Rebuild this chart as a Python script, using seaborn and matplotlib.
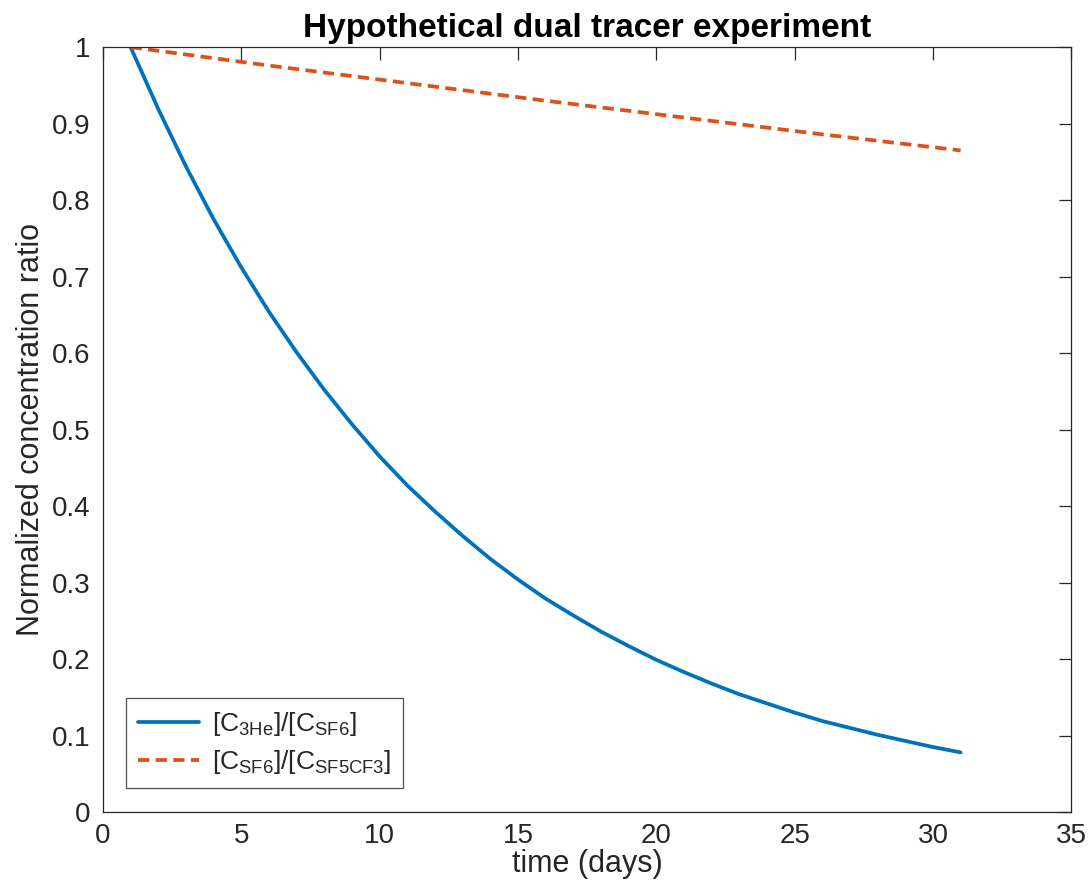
import numpy as np
import pandas as pd
import matplotlib
matplotlib.use("Agg")
import matplotlib.pyplot as plt
import seaborn as sns

# values
days = list(range(1, 32))
he_sf6 = [1.000, 0.919, 0.844, 0.775, 0.712, 0.654, 0.601, 0.552, 0.507, 0.465,
          0.427, 0.393, 0.361, 0.331, 0.304, 0.279, 0.257, 0.236, 0.217, 0.199,
          0.183, 0.168, 0.154, 0.142, 0.130, 0.119, 0.110, 0.101, 0.093, 0.085,
          0.078]
days_b = [1, 6, 11, 16, 21, 26, 31]
sf6_sf5cf3 = [1.000, 0.976, 0.953, 0.930, 0.908, 0.886, 0.865]

label_a = r"[C$_{\mathrm{3He}}$]/[C$_{\mathrm{SF6}}$]"
label_b = r"[C$_{\mathrm{SF6}}$]/[C$_{\mathrm{SF5CF3}}$]"

sns.set_style("white")
plt.rcParams["font.family"] = ["Liberation Sans", "DejaVu Sans"]
plt.rcParams["mathtext.fontset"] = "custom"
plt.rcParams["mathtext.rm"] = "Liberation Sans"
plt.rcParams["mathtext.it"] = "Liberation Sans:italic"

df_a = pd.DataFrame({"day": days, "ratio": he_sf6})
df_b = pd.DataFrame({"day": days_b, "ratio": sf6_sf5cf3})

fig = plt.figure(figsize=(10.92, 8.9), dpi=100)
ax = fig.add_axes([0.0943, 0.0876, 0.8867, 0.8594])

sns.lineplot(data=df_a, x="day", y="ratio", ax=ax, color="#0072BD", lw=2.7, label=label_a)
sns.lineplot(data=df_b, x="day", y="ratio", ax=ax, color="#D95319", lw=2.7,
             linestyle=(0, (3, 1.7)), label=label_b)

ax.set_xlim(0, 35)
ax.set_ylim(0, 1)
ax.set_xticks(range(0, 36, 5))
ax.set_yticks(np.round(np.arange(0, 1.01, 0.1), 1))
ax.set_yticklabels(["0", "0.1", "0.2", "0.3", "0.4", "0.5", "0.6", "0.7", "0.8", "0.9", "1"])

for s in ax.spines.values():
    s.set_color("#262626")
    s.set_linewidth(0.9)
    s.set_visible(True)
ax.tick_params(direction="in", length=9, width=0.9, color="#262626",
               top=True, right=True, labelsize=20, labelcolor="#262626")
ax.tick_params(axis="y", pad=9)
ax.tick_params(axis="x", pad=8)

ax.set_xlabel("time (days)", fontsize=22, color="#262626", labelpad=0)
ax.set_ylabel("Normalized concentration ratio", fontsize=22, color="#262626", labelpad=4)
ax.set_title("Hypothetical dual tracer experiment", fontsize=24, fontweight="bold",
             color="black", pad=7)

leg = ax.legend(loc="lower left", bbox_to_anchor=(0.024, 0.031), borderaxespad=0,
                fontsize=19, frameon=True, fancybox=False, edgecolor="#262626",
                handlelength=2.3, handletextpad=0.5, borderpad=0.45, labelspacing=0.4)
leg.get_frame().set_linewidth(0.9)

fig.savefig("out.png", dpi=100)
